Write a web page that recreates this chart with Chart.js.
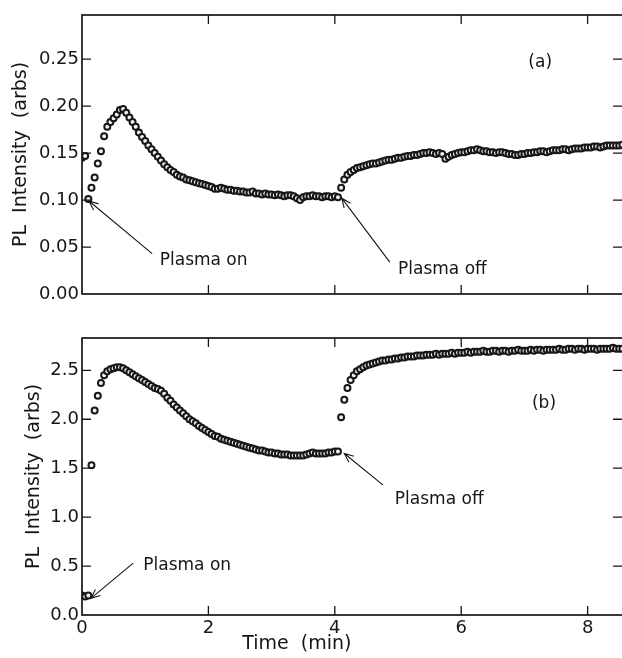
<!DOCTYPE html>
<html>
<head>
<meta charset="utf-8">
<script src="https://cdn.jsdelivr.net/npm/chart.js@4.4.1/dist/chart.umd.min.js"></script>
<style>
  html, body { margin: 0; padding: 0; background: #fff; overflow: hidden; width: 622px; height: 658px; }
  canvas { position: absolute; left: 0; }
  #chart-a { top: 0; }
  #chart-b { top: 310px; }
</style>
</head>
<body>
<canvas id="chart-a" width="640" height="310"></canvas>
<canvas id="chart-b" width="640" height="348"></canvas>
<script>
// sample interval of the measurement, minutes
const STEP_MIN = 0.05;

// (a) PL intensity, one row per half minute
const intensityA = [
  0.145, 0.147, 0.101, 0.113, 0.124, 0.139, 0.152, 0.168, 0.178, 0.183,
  0.187, 0.191, 0.196, 0.197, 0.193, 0.188, 0.183, 0.178, 0.172, 0.167,
  0.163, 0.158, 0.154, 0.150, 0.146, 0.142, 0.138, 0.135, 0.132, 0.130,
  0.127, 0.125, 0.124, 0.122, 0.121, 0.120, 0.119, 0.118, 0.117, 0.116,
  0.115, 0.114, 0.112, 0.112, 0.113, 0.112, 0.111, 0.111, 0.110, 0.110,
  0.109, 0.109, 0.108, 0.108, 0.109, 0.107, 0.107, 0.106, 0.107, 0.106,
  0.106, 0.105, 0.106, 0.105, 0.104, 0.105, 0.105, 0.104, 0.102, 0.100,
  0.103, 0.104, 0.104, 0.105, 0.104, 0.104, 0.103, 0.104, 0.104, 0.103,
  0.104, 0.103, 0.113, 0.122, 0.127, 0.130, 0.132, 0.134, 0.135, 0.136,
  0.137, 0.138, 0.139, 0.139, 0.140, 0.141, 0.142, 0.143, 0.143, 0.144,
  0.145, 0.145, 0.146, 0.147, 0.147, 0.148, 0.148, 0.149, 0.150, 0.150,
  0.151, 0.150, 0.149, 0.150, 0.149, 0.144, 0.146, 0.148, 0.149, 0.150,
  0.151, 0.151, 0.152, 0.153, 0.153, 0.154, 0.153, 0.152, 0.152, 0.151,
  0.151, 0.150, 0.151, 0.151, 0.150, 0.149, 0.149, 0.148, 0.148, 0.149,
  0.149, 0.150, 0.150, 0.151, 0.151, 0.152, 0.152, 0.151, 0.152, 0.153,
  0.153, 0.153, 0.154, 0.154, 0.153, 0.154, 0.155, 0.155, 0.155, 0.156,
  0.156, 0.156, 0.157, 0.157, 0.156, 0.157, 0.158, 0.158, 0.158, 0.158,
  0.158, 0.159
];

// (b) PL intensity, same time base
const intensityB = [
  0.20, 0.19, 0.20, 1.53, 2.09, 2.24, 2.37, 2.45, 2.49, 2.51,
  2.52, 2.53, 2.53, 2.52, 2.50, 2.48, 2.46, 2.44, 2.42, 2.40,
  2.38, 2.36, 2.34, 2.32, 2.31, 2.29, 2.26, 2.22, 2.19, 2.15,
  2.12, 2.09, 2.06, 2.03, 2.00, 1.98, 1.96, 1.93, 1.91, 1.89,
  1.87, 1.85, 1.83, 1.82, 1.80, 1.79, 1.78, 1.77, 1.76, 1.75,
  1.74, 1.73, 1.72, 1.71, 1.70, 1.69, 1.68, 1.68, 1.67, 1.66,
  1.66, 1.65, 1.65, 1.64, 1.64, 1.64, 1.63, 1.63, 1.63, 1.63,
  1.63, 1.64, 1.65, 1.66, 1.65, 1.65, 1.65, 1.65, 1.66, 1.66,
  1.67, 1.67, 2.02, 2.20, 2.32, 2.40, 2.45, 2.49, 2.51, 2.53,
  2.55, 2.56, 2.57, 2.58, 2.59, 2.60, 2.60, 2.61, 2.61, 2.62,
  2.62, 2.63, 2.63, 2.64, 2.64, 2.64, 2.65, 2.65, 2.65, 2.66,
  2.66, 2.66, 2.67, 2.66, 2.67, 2.67, 2.67, 2.68, 2.67, 2.68,
  2.68, 2.68, 2.69, 2.68, 2.69, 2.69, 2.69, 2.70, 2.69, 2.69,
  2.70, 2.70, 2.69, 2.70, 2.70, 2.69, 2.70, 2.70, 2.71, 2.70,
  2.70, 2.70, 2.71, 2.70, 2.71, 2.71, 2.70, 2.71, 2.71, 2.71,
  2.71, 2.72, 2.71, 2.71, 2.72, 2.72, 2.71, 2.72, 2.72, 2.71,
  2.72, 2.72, 2.72, 2.71, 2.72, 2.72, 2.72, 2.72, 2.73, 2.72,
  2.72, 2.72
];

const timeTicks = [0, 2, 4, 6, 8];
const yTicksA = [0, 0.05, 0.10, 0.15, 0.20, 0.25];
const yTicksB = [0, 0.5, 1.0, 1.5, 2.0, 2.5];

// text notes: label, text position (min, value), arrow from -> to
const notesA = [
  { text: "(a)", at: [7.25, 0.246], center: true },
  { text: "Plasma on", at: [1.23, 0.036], from: [1.11, 0.043], to: [0.11, 0.099] },
  { text: "Plasma off", at: [5.0, 0.026], from: [4.87, 0.034], to: [4.11, 0.102] }
];
const notesB = [
  { text: "(b)", at: [7.31, 2.16], center: true },
  { text: "Plasma on", at: [0.97, 0.50], from: [0.81, 0.53], to: [0.14, 0.17] },
  { text: "Plasma off", at: [4.95, 1.18], from: [4.76, 1.33], to: [4.15, 1.65] }
];

const FONT = "'DejaVu Sans', sans-serif";
const INK = "#161616";

// frame with inward ticks on all four sides
const framePlugin = {
  id: "frame",
  afterDraw(chart) {
    const { ctx, chartArea: a, scales } = chart;
    const x = scales.x, y = scales.y;
    ctx.save();
    ctx.strokeStyle = INK;
    ctx.lineWidth = 1.7;
    ctx.strokeRect(a.left, a.top, a.right - a.left, a.bottom - a.top);
    ctx.lineWidth = 1.3;
    ctx.beginPath();
    x.ticks.forEach(t => {
      const px = x.getPixelForValue(t.value);
      if (px <= a.left + 2) return;
      ctx.moveTo(px, a.bottom); ctx.lineTo(px, a.bottom - 9);
      ctx.moveTo(px, a.top); ctx.lineTo(px, a.top + 9);
    });
    y.ticks.forEach(t => {
      const py = y.getPixelForValue(t.value);
      if (py >= a.bottom - 2) return;
      ctx.moveTo(a.left, py); ctx.lineTo(a.left + 9, py);
      ctx.moveTo(a.right, py); ctx.lineTo(a.right - 10, py);
    });
    ctx.stroke();
    ctx.restore();
  }
};

// labels and arrows
const notesPlugin = {
  id: "notes",
  afterDraw(chart, args, opts) {
    const { ctx } = chart;
    const x = chart.scales.x, y = chart.scales.y;
    ctx.save();
    ctx.fillStyle = INK;
    ctx.strokeStyle = INK;
    ctx.lineWidth = 1.1;
    ctx.font = "17px " + FONT;
    ctx.textBaseline = "middle";
    (opts.items || []).forEach(n => {
      ctx.textAlign = n.center ? "center" : "left";
      ctx.fillText(n.text, x.getPixelForValue(n.at[0]), y.getPixelForValue(n.at[1]));
      if (!n.from) return;
      const x0 = x.getPixelForValue(n.from[0]), y0 = y.getPixelForValue(n.from[1]);
      const x1 = x.getPixelForValue(n.to[0]), y1 = y.getPixelForValue(n.to[1]);
      const ang = Math.atan2(y0 - y1, x0 - x1);
      ctx.beginPath();
      ctx.moveTo(x0, y0); ctx.lineTo(x1, y1);
      ctx.moveTo(x1 + 10 * Math.cos(ang + 0.4), y1 + 10 * Math.sin(ang + 0.4));
      ctx.lineTo(x1, y1);
      ctx.lineTo(x1 + 10 * Math.cos(ang - 0.4), y1 + 10 * Math.sin(ang - 0.4));
      ctx.stroke();
    });
    if (opts.xTitle) {
      ctx.font = "19px " + FONT;
      ctx.textAlign = "center";
      ctx.fillText(opts.xTitle, x.getPixelForValue(3.4), chart.chartArea.bottom + 29);
    }
    ctx.restore();
  }
};

function makePanel(id, values, yTicks, yMax, digits, opts) {
  const points = values.map((v, i) => ({ x: i * STEP_MIN, y: v }));
  return new Chart(document.getElementById(id), {
    type: "scatter",
    data: {
      datasets: [{
        data: points,
        pointRadius: 3,
        pointBorderWidth: 2,
        borderColor: INK,
        backgroundColor: "#f2f2f2",
        showLine: false
      }]
    },
    options: {
      responsive: false,
      animation: false,
      events: [],
      layout: { padding: { top: opts.padTop, right: 17, left: 0, bottom: 0 } },
      plugins: {
        legend: { display: false },
        tooltip: { enabled: false },
        notes: { items: opts.notes, xTitle: opts.xTitle }
      },
      scales: {
        x: {
          type: "linear",
          min: 0,
          max: 8.56,
          grid: { display: false, drawTicks: false },
          border: { display: false },
          afterBuildTicks: s => { s.ticks = timeTicks.map(v => ({ value: v })); },
          afterFit: s => { s.height = opts.xHeight; },
          ticks: {
            display: opts.showX,
            padding: 3,
            color: INK,
            font: { family: FONT, size: 18 },
            callback: v => String(v)
          }
        },
        y: {
          min: 0,
          max: yMax,
          grid: { display: false, drawTicks: false },
          border: { display: false },
          afterBuildTicks: s => { s.ticks = yTicks.map(v => ({ value: v })); },
          afterFit: s => { s.width = 82; },
          ticks: {
            padding: 3,
            color: INK,
            font: { family: FONT, size: 18 },
            callback: v => Number(v).toFixed(digits)
          },
          title: {
            display: true,
            text: "PL  Intensity  (arbs)",
            color: INK,
            font: { family: FONT, size: 19 },
            padding: { top: opts.titlePad, bottom: 0 }
          }
        }
      }
    },
    plugins: [framePlugin, notesPlugin]
  });
}

makePanel("chart-a", intensityA, yTicksA, 0.297, 2,
  { padTop: 15, xHeight: 16, showX: false, titlePad: 10, notes: notesA });
makePanel("chart-b", intensityB, yTicksB, 2.83, 1,
  { padTop: 28, xHeight: 43, showX: true, titlePad: 23, notes: notesB, xTitle: "Time  (min)" });
</script>
</body>
</html>
